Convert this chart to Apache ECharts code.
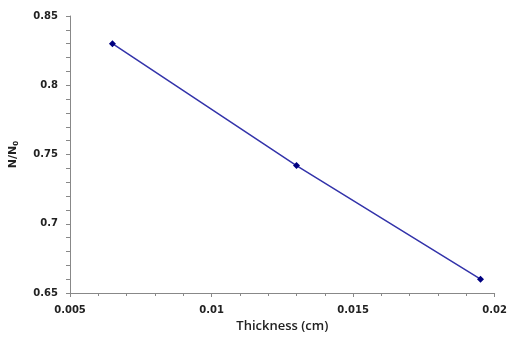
<!DOCTYPE html>
<html>
<head>
<meta charset="utf-8">
<script src="https://cdn.jsdelivr.net/npm/echarts@6/dist/echarts.min.js"></script>
<style>html,body{margin:0;padding:0;background:#fff;}#c{width:510px;height:344px;}</style>
</head>
<body>
<div id="c"></div>
<script>
const thickness = [0.0065, 0.013, 0.0195];
const ratio = [0.83, 0.742, 0.66];
const xTicks = [0.005, 0.01, 0.015, 0.02];
const yTicks = [0.65, 0.7, 0.75, 0.8, 0.85];

const chart = echarts.init(document.getElementById('c'));
const labelStyle = {fontFamily: 'DejaVu Sans', fontWeight: 'bold', fontSize: 10, color: '#222'};
chart.setOption({
  animation: false,
  grid: {left: 69, right: 13, top: 16, bottom: 51},
  xAxis: {
    type: 'value', min: 0.005, max: 0.02, interval: 0.005,
    name: 'Thickness (cm)', nameLocation: 'middle', nameGap: 27,
    nameTextStyle: {fontFamily: 'Open Sans', fontWeight: 600, fontSize: 13, color: '#222'},
    axisLine: {lineStyle: {color: '#888', width: 1}},
    axisTick: {show: true, length: 4, lineStyle: {color: '#888'}},
    minorTick: {show: true, splitNumber: 5, length: 3, lineStyle: {color: '#888'}},
    splitLine: {show: false},
    axisLabel: Object.assign({margin: 12, formatter: v => String(+v.toFixed(3))}, labelStyle)
  },
  yAxis: {
    type: 'value', min: 0.65, max: 0.85, interval: 0.05,
    name: '{a|N/N}{b|0}', nameLocation: 'middle', nameGap: 50, nameRotate: 90,
    nameTextStyle: {rich: {
      a: {fontFamily: 'DejaVu Sans', fontWeight: 'bold', fontSize: 11, color: '#222'},
      b: {fontFamily: 'DejaVu Sans', fontWeight: 'bold', fontSize: 7, color: '#222', verticalAlign: 'bottom', padding: [6,0,0,0]}
    }},
    axisLine: {show: true, lineStyle: {color: '#888', width: 1}},
    axisTick: {show: true, length: 4, lineStyle: {color: '#888'}},
    minorTick: {show: true, splitNumber: 5, length: 4, lineStyle: {color: '#888'}},
    splitLine: {show: false},
    axisLabel: Object.assign({margin: 12, formatter: v => String(+v.toFixed(2))}, labelStyle)
  },
  series: [{
    type: 'line',
    data: thickness.map((x, i) => [x, ratio[i]]),
    symbol: 'diamond', symbolSize: 7,
    lineStyle: {color: '#3333aa', width: 1.5},
    itemStyle: {color: '#000080'}
  }]
});
</script>
</body>
</html>
